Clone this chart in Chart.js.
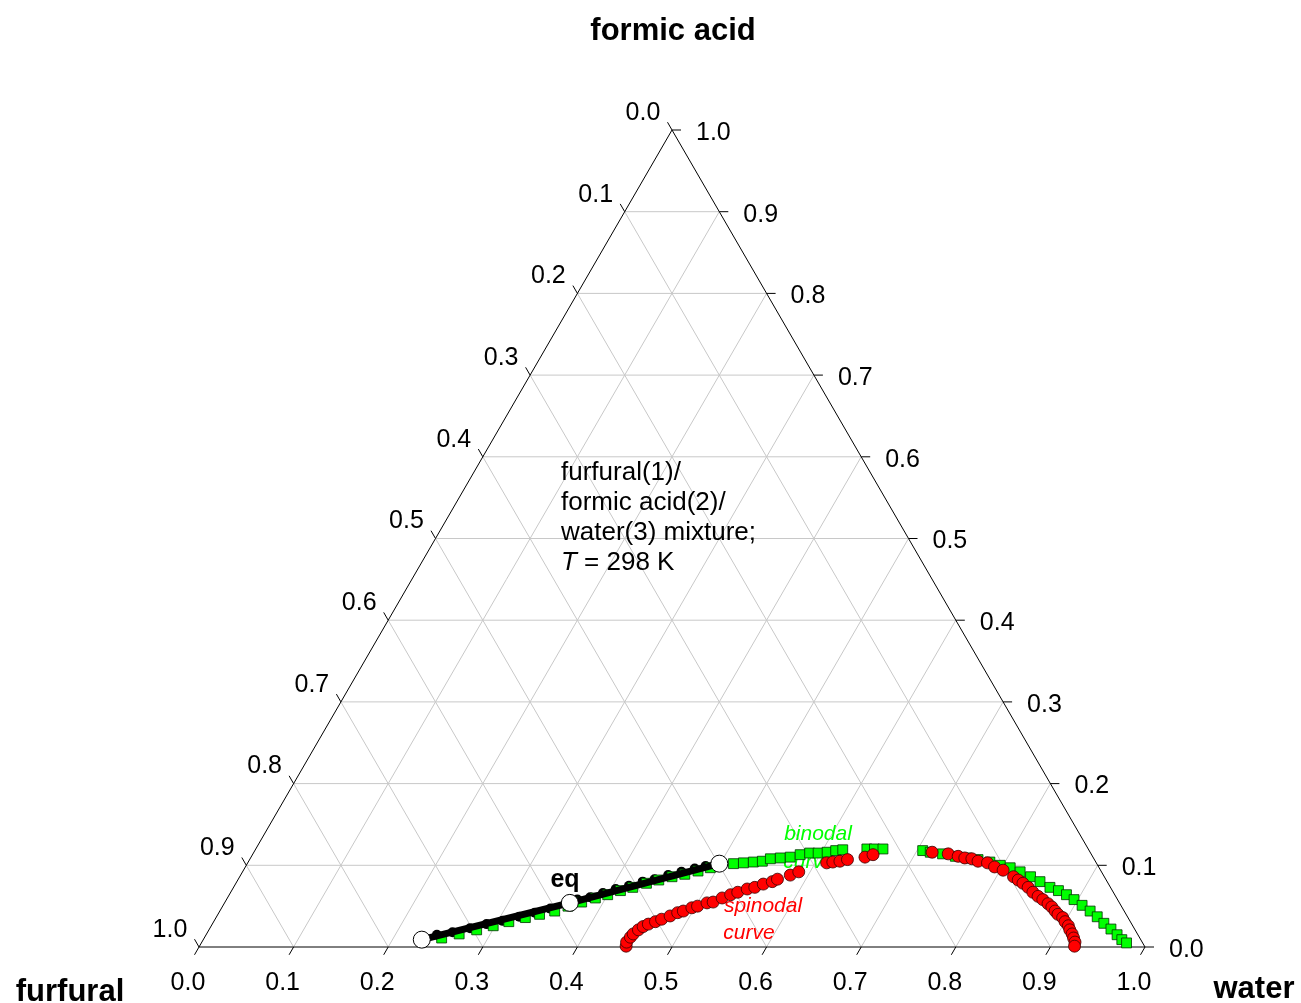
<!DOCTYPE html>
<html>
<head>
<meta charset="utf-8">
<script src="https://cdn.jsdelivr.net/npm/chart.js@4.4.1/dist/chart.umd.min.js"></script>
<style>
  body { margin: 0; background: #fff; }
  #wrap { width: 1301px; height: 1003px; }
</style>
</head>
<body>
<div id="wrap"><canvas id="ternary"></canvas></div>
<script>
// mole fractions: water (x3) and formic acid (x2), furfural = 1 - x2 - x3
const binodalWater = [0.251, 0.267, 0.283, 0.298, 0.312, 0.327, 0.340, 0.354, 0.365, 0.377, 0.389, 0.400, 0.411, 0.422, 0.434, 0.445, 0.457, 0.469, 0.481, 0.492,
  0.514, 0.524, 0.534, 0.543, 0.550, 0.560, 0.570, 0.579, 0.588, 0.597, 0.606, 0.614, 0.621, 0.646, 0.654, 0.663,
  0.706, 0.715, 0.729, 0.744, 0.757, 0.770, 0.784, 0.797, 0.809, 0.822, 0.836, 0.849, 0.863, 0.874, 0.885, 0.896, 0.908, 0.920, 0.931, 0.942, 0.953, 0.963, 0.971, 0.978];
const binodalAcid = [0.011, 0.016, 0.021, 0.026, 0.031, 0.036, 0.040, 0.044, 0.050, 0.055, 0.060, 0.064, 0.069, 0.073, 0.078, 0.082, 0.086, 0.089, 0.093, 0.097,
  0.102, 0.103, 0.104, 0.105, 0.108, 0.109, 0.110, 0.113, 0.115, 0.115, 0.116, 0.118, 0.119, 0.120, 0.120, 0.120,
  0.118, 0.116, 0.114, 0.111, 0.109, 0.107, 0.104, 0.100, 0.097, 0.092, 0.086, 0.080, 0.073, 0.069, 0.064, 0.058, 0.051, 0.044, 0.037, 0.029, 0.022, 0.015, 0.009, 0.005];

const spinodalWater = [0.451, 0.449, 0.450, 0.451, 0.454, 0.457, 0.461, 0.467, 0.472, 0.479, 0.485, 0.490, 0.497, 0.502, 0.510, 0.516, 0.523, 0.530, 0.536, 0.544, 0.551, 0.558, 0.566, 0.570, 0.581, 0.588,
  0.612, 0.618, 0.625, 0.632, 0.649, 0.656,
  0.717, 0.735, 0.747, 0.755, 0.763, 0.771, 0.782, 0.792, 0.803, 0.818, 0.825, 0.832, 0.840, 0.848, 0.856, 0.863, 0.871, 0.877, 0.883, 0.888, 0.895, 0.900, 0.906, 0.910, 0.915, 0.919, 0.923, 0.925];
const spinodalAcid = [0.001, 0.006, 0.012, 0.016, 0.021, 0.025, 0.028, 0.031, 0.034, 0.038, 0.042, 0.044, 0.048, 0.050, 0.054, 0.055, 0.060, 0.064, 0.067, 0.071, 0.073, 0.077, 0.080, 0.083, 0.088, 0.092,
  0.103, 0.104, 0.105, 0.107, 0.110, 0.113,
  0.116, 0.114, 0.111, 0.109, 0.108, 0.105, 0.103, 0.098, 0.094, 0.086, 0.082, 0.078, 0.073, 0.067, 0.062, 0.058, 0.053, 0.049, 0.044, 0.040, 0.036, 0.031, 0.026, 0.021, 0.016, 0.011, 0.006, 0.001];

// calculated furfural-rich phase (black dots)
const calcWater = [0.244, 0.259, 0.275, 0.290, 0.305, 0.320, 0.334, 0.348, 0.371, 0.383, 0.394, 0.405, 0.417, 0.429, 0.440, 0.452, 0.464, 0.476, 0.486];
const calcAcid = [0.015, 0.018, 0.023, 0.028, 0.032, 0.037, 0.042, 0.047, 0.058, 0.061, 0.066, 0.071, 0.075, 0.080, 0.083, 0.088, 0.092, 0.096, 0.099];

// tie line "eq" (feed point in the middle)
const tieWater = [0.231, 0.365, 0.499];
const tieAcid = [0.009, 0.054, 0.102];

const tickValues = [0, 0.1, 0.2, 0.3, 0.4, 0.5, 0.6, 0.7, 0.8, 0.9, 1.0];
const tickLabels = ['0.0', '0.1', '0.2', '0.3', '0.4', '0.5', '0.6', '0.7', '0.8', '0.9', '1.0'];

const H = Math.sqrt(3) / 2;
function toXY(w, a) {
    return { x: w + a / 2, y: a * H };
}
function points(ws, as) {
    return ws.map((w, i) => toXY(w, as[i]));
}

const FONT = 'Arial, "Liberation Sans", sans-serif';

const ternaryFrame = {
    id: 'ternaryFrame',
    beforeDatasetsDraw(chart) {
        const ctx = chart.ctx;
        const sx = chart.scales.x, sy = chart.scales.y;
        const P = (w, a) => {
            const p = toXY(w, a);
            return [sx.getPixelForValue(p.x), sy.getPixelForValue(p.y)];
        };
        const line = (a, b) => {
            ctx.beginPath();
            ctx.moveTo(a[0], a[1]);
            ctx.lineTo(b[0], b[1]);
            ctx.stroke();
        };
        ctx.save();
        // grid
        ctx.strokeStyle = '#c8c8c8';
        ctx.lineWidth = 1;
        for (let k = 1; k < 10; k++) {
            const v = k / 10;
            line(P(0, v), P(1 - v, v));      // constant formic acid
            line(P(v, 0), P(v, 1 - v));      // constant water
            line(P(0, 1 - v), P(1 - v, 0));  // constant furfural
        }
        // triangle
        ctx.strokeStyle = '#000';
        ctx.beginPath();
        const A = P(0, 0), B = P(1, 0), C = P(0, 1);
        ctx.moveTo(A[0], A[1]); ctx.lineTo(B[0], B[1]); ctx.lineTo(C[0], C[1]); ctx.closePath();
        ctx.stroke();

        ctx.fillStyle = '#000';
        ctx.font = '25px ' + FONT;
        ctx.textBaseline = 'middle';
        const T = 9;
        tickValues.forEach((v, i) => {
            // bottom: water
            let p = P(v, 0);
            line(p, [p[0] - T * 0.5, p[1] + T * H]);
            ctx.textAlign = 'center';
            ctx.fillText(tickLabels[i], p[0] - 11, p[1] + 36);
            // left: furfural (0 at top)
            p = P(0, 1 - v);
            line(p, [p[0] - T * 0.5, p[1] - T * H]);
            ctx.fillText(tickLabels[i], p[0] - 29, p[1] - 17);
            // right: formic acid
            p = P(1 - v, v);
            line(p, [p[0] + T, p[1]]);
            ctx.textAlign = 'left';
            ctx.fillText(tickLabels[i], p[0] + 24, p[1] + 3);
        });

        // component names
        ctx.font = 'bold 31px ' + FONT;
        ctx.textAlign = 'center';
        ctx.fillText('formic acid', C[0] + 1, 31);
        ctx.fillText('furfural', 70, 992);
        ctx.fillText('water', 1254, 989);

        // description
        ctx.font = '26px ' + FONT;
        ctx.textAlign = 'left';
        ctx.fillText('furfural(1)/', 561, 473);
        ctx.fillText('formic acid(2)/', 561, 503);
        ctx.fillText('water(3) mixture;', 561, 533);
        ctx.font = 'italic 26px ' + FONT;
        ctx.fillText('T', 561, 563);
        const tw = ctx.measureText('T').width;
        ctx.font = '26px ' + FONT;
        ctx.fillText(' = 298 K', 561 + tw, 563);

        // curve labels
        ctx.textAlign = 'center';
        ctx.font = 'bold 25px ' + FONT;
        ctx.fillText('eq', 565, 880);
        ctx.font = 'italic 21px ' + FONT;
        ctx.fillStyle = '#00ff00';
        ctx.fillText('binodal', 818, 834);
        ctx.fillText('curve', 809, 862);
        ctx.fillStyle = '#ff0000';
        ctx.fillText('spinodal', 763, 906);
        ctx.fillText('curve', 749, 933);
        ctx.restore();
    }
};

const ctx = document.getElementById('ternary').getContext('2d');
const ternaryChart = new Chart(ctx, {
    type: 'scatter',
    data: {
        datasets: [
            {
                label: 'eq',
                data: points(tieWater, tieAcid),
                showLine: true,
                borderColor: '#000',
                borderWidth: 0,
                pointRadius: 8.5,
                pointBackgroundColor: '#fff',
                pointBorderColor: '#000',
                pointBorderWidth: 1,
                order: 0,
                clip: false
            },
            {
                label: 'spinodal curve',
                data: points(spinodalWater, spinodalAcid),
                pointStyle: 'circle',
                pointRadius: 6,
                backgroundColor: '#ff0000',
                borderColor: '#3a0000',
                borderWidth: 0.8,
                order: 1,
                clip: false
            },
            {
                label: 'tie line',
                data: points(tieWater, tieAcid),
                showLine: true,
                borderColor: '#000',
                borderWidth: 7,
                borderCapStyle: 'round',
                pointRadius: 0,
                order: 2,
                clip: false
            },
            {
                label: 'binodal curve',
                data: points(binodalWater, binodalAcid),
                pointStyle: 'rect',
                pointRadius: 7,
                backgroundColor: '#00ff00',
                borderColor: '#003300',
                borderWidth: 0.8,
                order: 3,
                clip: false
            },
            {
                label: 'calc',
                data: points(calcWater, calcAcid),
                pointRadius: 5,
                backgroundColor: '#000',
                borderColor: '#000',
                borderWidth: 0,
                order: 4,
                clip: false
            }
        ]
    },
    options: {
        responsive: true,
        maintainAspectRatio: false,
        animation: false,
        layout: {
            padding: { left: 199, right: 156, top: 130, bottom: 56 }
        },
        plugins: {
            legend: { display: false },
            tooltip: { enabled: false }
        },
        scales: {
            x: { type: 'linear', min: 0, max: 1, display: false },
            y: { type: 'linear', min: 0, max: H, display: false }
        }
    },
    plugins: [ternaryFrame]
});
</script>
</body>
</html>
